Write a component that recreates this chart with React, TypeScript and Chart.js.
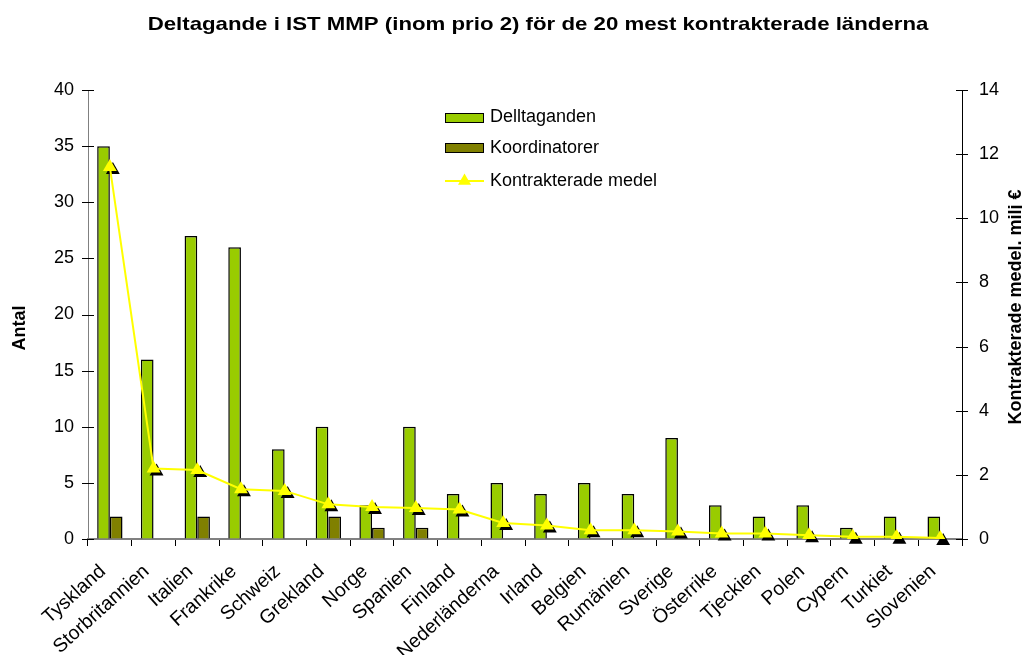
import React, { useEffect, useRef } from "react";
import { Chart, registerables } from "chart.js";

Chart.register(...registerables);

const countries = [
  "Tyskland", "Storbritannien", "Italien", "Frankrike", "Schweiz", "Grekland", "Norge",
  "Spanien", "Finland", "Nederländerna", "Irland", "Belgien", "Rumänien", "Sverige",
  "Österrike", "Tjeckien", "Polen", "Cypern", "Turkiet", "Slovenien",
];
const deltaganden = [35, 16, 27, 26, 8, 10, 3, 10, 4, 5, 4, 5, 4, 9, 3, 2, 3, 1, 2, 2];
const koordinatorer = [2, 0, 2, 0, 0, 2, 1, 1, 0, 0, 0, 0, 0, 0, 0, 0, 0, 0, 0, 0];
const kontrakterade = [11.6, 2.2, 2.15, 1.55, 1.5, 1.08, 1.0, 0.97, 0.92, 0.5, 0.42, 0.27, 0.27, 0.23, 0.17, 0.17, 0.12, 0.07, 0.07, 0.03];
const leftTicks = [0, 5, 10, 15, 20, 25, 30, 35, 40];
const rightTicks = [0, 2, 4, 6, 8, 10, 12, 14];

const TITLE = "Deltagande i IST MMP (inom prio 2) för de 20 mest kontrakterade länderna";
const FONT = "'Liberation Sans', Arial, sans-serif";
const GREEN = "#99CC00";
const OLIVE = "#808000";
const YELLOW = "#FFFF00";

function triangle(ctx: CanvasRenderingContext2D, x: number, y: number, r: number) {
  ctx.beginPath();
  ctx.moveTo(x, y - r);
  ctx.lineTo(x + r * 0.866, y + r * 0.5);
  ctx.lineTo(x - r * 0.866, y + r * 0.5);
  ctx.closePath();
  ctx.fill();
}

const decorPlugin = {
  id: "decor",
  beforeDatasetDraw(chart: any, args: any) {
    if (args.index !== 2) return;
    const ctx = chart.ctx;
    const meta = chart.getDatasetMeta(2);
    ctx.save();
    ctx.fillStyle = "#000";
    meta.data.forEach((p: any) => triangle(ctx, p.x + 3, p.y + 3, 8));
    ctx.restore();
  },
  afterDraw(chart: any) {
    const ctx = chart.ctx as CanvasRenderingContext2D;
    const ca = chart.chartArea;
    ctx.save();
    // crossing tick marks on the value axes
    ctx.strokeStyle = "#000";
    ctx.lineWidth = 1;
    const yL = chart.scales.y;
    yL.ticks.forEach((t: any) => {
      const py = Math.round(yL.getPixelForValue(t.value)) + 0.5;
      ctx.beginPath();
      ctx.moveTo(ca.left - 6, py);
      ctx.lineTo(ca.left + 6, py);
      ctx.stroke();
    });
    const yR = chart.scales.y1;
    yR.ticks.forEach((t: any) => {
      const py = Math.round(yR.getPixelForValue(t.value)) + 0.5;
      ctx.beginPath();
      ctx.moveTo(ca.right - 6, py);
      ctx.lineTo(ca.right + 6, py);
      ctx.stroke();
    });
    // title
    ctx.fillStyle = "#000";
    ctx.font = `bold 19px ${FONT}`;
    ctx.textAlign = "center";
    ctx.textBaseline = "alphabetic";
    ctx.save();
    ctx.translate(538, 30);
    ctx.scale(1.17, 1);
    ctx.fillText(TITLE, 0, 0);
    ctx.restore();
    // axis titles
    ctx.textBaseline = "middle";
    ctx.font = `bold 18px ${FONT}`;
    ctx.save();
    ctx.translate(20, 328);
    ctx.rotate(-Math.PI / 2);
    ctx.fillText("Antal", 0, 0);
    ctx.restore();
    ctx.save();
    ctx.translate(1016, 307);
    ctx.rotate(-Math.PI / 2);
    ctx.fillText("Kontrakterade medel. milj €", 0, 0);
    ctx.restore();
    // legend
    ctx.font = `18px ${FONT}`;
    ctx.textAlign = "left";
    ctx.lineWidth = 1;
    ctx.strokeStyle = "#000";
    ctx.fillStyle = GREEN;
    ctx.fillRect(445.5, 113.5, 38, 9);
    ctx.strokeRect(445.5, 113.5, 38, 9);
    ctx.fillStyle = OLIVE;
    ctx.fillRect(445.5, 143.5, 38, 9);
    ctx.strokeRect(445.5, 143.5, 38, 9);
    ctx.strokeStyle = YELLOW;
    ctx.lineWidth = 2;
    ctx.beginPath();
    ctx.moveTo(445, 181);
    ctx.lineTo(484, 181);
    ctx.stroke();
    ctx.fillStyle = YELLOW;
    triangle(ctx, 464.5, 181, 7.5);
    ctx.fillStyle = "#000";
    ctx.fillText("Delltaganden", 490, 117);
    ctx.fillText("Koordinatorer", 490, 148);
    ctx.fillText("Kontrakterade medel", 490, 181);
    ctx.restore();
  },
};

export default function App() {
  const ref = useRef<HTMLCanvasElement | null>(null);
  useEffect(() => {
    if (!ref.current) return;
    const chart = new Chart(ref.current, {
      type: "bar",
      data: {
        labels: countries,
        datasets: [
          {
            type: "bar",
            label: "Delltaganden",
            data: deltaganden,
            backgroundColor: GREEN,
            borderColor: "#000",
            borderWidth: 1.5,
            yAxisID: "y",
            order: 1,
          },
          {
            type: "bar",
            label: "Koordinatorer",
            data: koordinatorer,
            backgroundColor: OLIVE,
            borderColor: "#000",
            borderWidth: 1.5,
            yAxisID: "y",
            order: 2,
          },
          {
            type: "line",
            label: "Kontrakterade medel",
            data: kontrakterade,
            borderColor: YELLOW,
            borderWidth: 2,
            backgroundColor: YELLOW,
            pointStyle: "triangle",
            pointRadius: 8,
            pointBorderWidth: 0,
            pointBackgroundColor: YELLOW,
            tension: 0,
            yAxisID: "y1",
            order: 0,
          } as any,
        ],
      },
      options: {
        animation: false,
        responsive: false,
        maintainAspectRatio: false,
        layout: { padding: { top: 90, left: 0, right: 0, bottom: 0 } },
        datasets: {
          bar: { categoryPercentage: 0.58, barPercentage: 1.0, grouped: true },
        },
        plugins: {
          legend: { display: false },
          title: { display: false },
          tooltip: { enabled: false },
        },
        scales: {
          x: {
            offset: true,
            grid: {
              offset: true,
              drawOnChartArea: false,
              drawTicks: true,
              tickLength: 7,
              color: "#000",
            },
            border: { color: "#808080", width: 2 },
            ticks: {
              minRotation: 42,
              maxRotation: 42,
              autoSkip: false,
              color: "#000",
              font: { family: FONT, size: 19.5 },
              padding: 14,
              labelOffset: -7,
            },
            afterFit(scale: any) {
              scale.height = 116;
            },
          },
          y: {
            position: "left",
            min: 0,
            max: 40,
            afterBuildTicks(scale: any) {
              scale.ticks = leftTicks.map((v) => ({ value: v }));
            },
            grid: { drawOnChartArea: false, tickLength: 6, color: "rgba(0,0,0,0)" },
            border: { color: "#808080", width: 1 },
            ticks: { color: "#000", font: { family: FONT, size: 18 }, padding: 8 },
            afterFit(scale: any) {
              scale.width = 88;
            },
          },
          y1: {
            position: "right",
            min: 0,
            max: 14,
            afterBuildTicks(scale: any) {
              scale.ticks = rightTicks.map((v) => ({ value: v }));
            },
            grid: { drawOnChartArea: false, tickLength: 6, color: "rgba(0,0,0,0)" },
            border: { color: "#000", width: 1 },
            ticks: { color: "#000", font: { family: FONT, size: 18 }, padding: 11 },
            afterFit(scale: any) {
              scale.width = 60;
            },
          },
        },
      },
      plugins: [decorPlugin],
    });
    return () => chart.destroy();
  }, []);
  return (
    <div style={{ position: "fixed", left: 0, top: 0, width: 1022, height: 655, background: "#fff" }}>
      <canvas ref={ref} width={1022} height={655} style={{ display: "block" }} />
    </div>
  );
}
